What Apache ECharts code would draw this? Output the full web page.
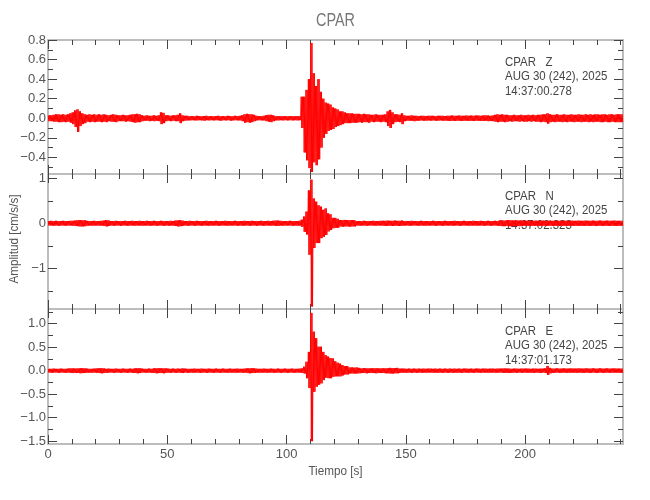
<!DOCTYPE html>
<html><head><meta charset="utf-8">
<script src="https://cdn.jsdelivr.net/npm/echarts@6/dist/echarts.min.js"></script>
<style>html,body{margin:0;padding:0;background:#fff}#c{width:650px;height:500px}</style>
</head><body><div id="c"></div>
<script>
// ---- text ----
const titleText = 'CPAR';
const xName = 'Tiempo [s]';
const yName = 'Amplitud [cm/s/s]';
const stations = ['CPAR   Z', 'CPAR   N', 'CPAR   E'];
const dateLine = 'AUG 30 (242), 2025';
const startTimes = ['14:37:00.278', '14:37:02.323', '14:37:01.173'];

// ---- axes (seconds / cm/s/s) ----
const xRange = [0, 241];
const xTicks = [0, 50, 100, 150, 200];
const xMinorTicks = [10,20,30,40,60,70,80,90,110,120,130,140,160,170,180,190,210,220,230,240];
const yRanges = [[-0.57, 0.8], [-1.905, 1.095], [-1.56, 1.313]];
const yTicks = [[-0.4,-0.2,0,0.2,0.4,0.6,0.8], [-1,0,1], [-1.5,-1,-0.5,0,0.5,1]];
const yMinorTicks = [[-0.5,-0.3,-0.1,0.1,0.3,0.5,0.7], [-1.5,-0.5,0.5], [-1.25,-0.75,-0.25,0.25,0.75,1.25]];
const yDecimals = [1, 0, 1];

// ---- per-second envelope of each trace (upper / lower), bins 0..240 s ----
const zUp = [
.03,.03,.035,.04,.04,.035,.04,.035,.04,.05,
.06,.08,.09,.07,.05,.04,.035,.04,.035,.04,
.035,.04,.035,.04,.035,.03,.035,.04,.035,.03,
.03,.035,.03,.03,.035,.04,.04,.045,.04,.03,
.025,.03,.025,.025,.03,.025,.03,.06,.055,.03,
.03,.025,.03,.03,.035,.05,.03,.025,.025,.02,
.022,.02,.025,.022,.02,.022,.025,.02,.022,.02,
.022,.025,.02,.022,.02,.025,.022,.02,.025,.022,
.025,.03,.04,.045,.04,.04,.035,.025,.022,.02,
.025,.03,.035,.035,.03,.022,.02,.022,.02,.022,
.02,.022,.02,.022,.02,.022,.22,.22,.29,.40,
.77,.46,.33,.40,.27,.20,.16,.15,.14,.11,
.10,.09,.07,.07,.06,.05,.05,.05,.045,.045,
.045,.04,.045,.04,.04,.035,.035,.04,.035,.035,
.035,.04,.07,.085,.06,.04,.04,.035,.05,.03,
.025,.025,.03,.025,.025,.022,.025,.025,.022,.025,
.025,.025,.022,.025,.025,.025,.022,.025,.025,.028,
.025,.025,.028,.025,.025,.028,.025,.028,.025,.028,
.028,.025,.028,.03,.028,.025,.028,.035,.04,.035,
.04,.035,.035,.03,.03,.035,.03,.03,.035,.03,
.03,.035,.03,.035,.03,.035,.035,.04,.04,.05,
.04,.035,.035,.04,.035,.035,.04,.035,.035,.04,
.035,.035,.04,.035,.035,.04,.035,.04,.035,.04,
.04,.035,.04,.04,.035,.04,.04,.035,.04,.04,
.04];
const zLo = [
-.03,-.03,-.035,-.035,-.04,-.04,-.035,-.04,-.035,-.045,
-.06,-.09,-.14,-.08,-.06,-.05,-.035,-.04,-.035,-.04,
-.035,-.035,-.04,-.035,-.04,-.03,-.035,-.035,-.04,-.03,
-.03,-.03,-.035,-.03,-.035,-.04,-.045,-.04,-.04,-.03,
-.025,-.025,-.03,-.025,-.03,-.025,-.03,-.06,-.05,-.03,
-.025,-.03,-.025,-.03,-.03,-.05,-.03,-.025,-.022,-.022,
-.02,-.022,-.022,-.02,-.022,-.025,-.02,-.022,-.02,-.022,
-.02,-.022,-.025,-.02,-.022,-.02,-.025,-.022,-.02,-.022,
-.022,-.03,-.045,-.04,-.045,-.04,-.03,-.022,-.02,-.022,
-.022,-.03,-.035,-.04,-.03,-.022,-.022,-.02,-.022,-.02,
-.022,-.02,-.022,-.02,-.022,-.02,-.10,-.35,-.43,-.51,
-.55,-.45,-.48,-.42,-.30,-.20,-.16,-.13,-.12,-.11,
-.09,-.08,-.07,-.06,-.05,-.05,-.05,-.045,-.045,-.045,
-.04,-.045,-.04,-.04,-.045,-.035,-.04,-.035,-.035,-.04,
-.035,-.04,-.08,-.10,-.06,-.04,-.035,-.04,-.06,-.03,
-.025,-.025,-.025,-.03,-.025,-.025,-.022,-.025,-.025,-.022,
-.025,-.022,-.025,-.025,-.022,-.025,-.025,-.025,-.028,-.025,
-.028,-.025,-.025,-.028,-.025,-.025,-.028,-.025,-.028,-.025,
-.025,-.028,-.028,-.025,-.03,-.028,-.03,-.035,-.04,-.035,
-.035,-.04,-.035,-.03,-.035,-.03,-.03,-.035,-.03,-.035,
-.035,-.03,-.035,-.03,-.035,-.035,-.04,-.035,-.04,-.055,
-.04,-.035,-.04,-.035,-.035,-.04,-.035,-.04,-.035,-.035,
-.04,-.035,-.035,-.04,-.035,-.035,-.04,-.035,-.04,-.035,
-.035,-.04,-.04,-.035,-.04,-.04,-.035,-.04,-.04,-.04,
-.04];
const nUp = [
.05,.055,.05,.055,.05,.05,.055,.05,.05,.055,
.055,.06,.07,.07,.065,.07,.055,.05,.05,.055,
.05,.05,.055,.06,.07,.065,.05,.05,.055,.05,
.05,.05,.055,.05,.05,.055,.05,.05,.055,.05,
.05,.055,.05,.05,.055,.05,.05,.055,.05,.05,
.05,.055,.05,.06,.065,.07,.06,.05,.05,.055,
.05,.05,.055,.05,.05,.05,.055,.05,.05,.05,
.055,.05,.05,.05,.055,.05,.05,.05,.055,.05,
.05,.05,.055,.05,.05,.055,.05,.05,.05,.055,
.05,.05,.055,.05,.055,.06,.06,.055,.05,.05,
.05,.055,.05,.05,.05,.055,.08,.15,.26,.73,
.97,.55,.48,.40,.37,.30,.33,.22,.20,.12,
.12,.10,.07,.07,.075,.07,.07,.07,.07,.05,
.05,.05,.055,.05,.05,.05,.055,.05,.05,.055,
.055,.055,.06,.055,.055,.06,.055,.055,.06,.05,
.05,.05,.055,.05,.05,.05,.055,.05,.05,.05,
.05,.055,.05,.05,.05,.05,.055,.05,.05,.05,
.055,.05,.05,.05,.055,.05,.05,.05,.055,.05,
.05,.055,.05,.05,.055,.05,.05,.055,.05,.065,
.065,.06,.065,.07,.065,.06,.065,.06,.065,.055,
.055,.06,.055,.055,.06,.055,.055,.06,.055,.055,
.06,.055,.055,.06,.055,.055,.06,.055,.055,.06,
.055,.055,.06,.055,.055,.06,.055,.055,.06,.055,
.055,.06,.055,.055,.06,.055,.055,.06,.055,.055,
.055];
const nLo = [
-.05,-.05,-.055,-.05,-.055,-.05,-.05,-.055,-.05,-.05,
-.055,-.06,-.065,-.07,-.07,-.065,-.055,-.05,-.055,-.05,
-.05,-.055,-.05,-.06,-.07,-.06,-.05,-.055,-.05,-.05,
-.055,-.05,-.05,-.055,-.05,-.05,-.055,-.05,-.05,-.055,
-.05,-.05,-.055,-.05,-.05,-.055,-.05,-.05,-.055,-.05,
-.055,-.05,-.055,-.06,-.07,-.065,-.055,-.05,-.055,-.05,
-.05,-.055,-.05,-.05,-.055,-.05,-.05,-.055,-.05,-.05,
-.05,-.055,-.05,-.05,-.05,-.055,-.05,-.05,-.05,-.055,
-.05,-.055,-.05,-.05,-.055,-.05,-.05,-.055,-.05,-.05,
-.055,-.05,-.05,-.055,-.05,-.06,-.06,-.05,-.055,-.05,
-.05,-.05,-.055,-.05,-.055,-.05,-.08,-.19,-.25,-.70,
-1.85,-.55,-.44,-.44,-.33,-.30,-.26,-.18,-.15,-.11,
-.10,-.10,-.07,-.075,-.07,-.07,-.075,-.07,-.07,-.05,
-.055,-.05,-.05,-.055,-.05,-.05,-.05,-.055,-.05,-.05,
-.055,-.06,-.055,-.055,-.06,-.055,-.055,-.06,-.055,-.05,
-.05,-.055,-.05,-.05,-.05,-.055,-.05,-.05,-.055,-.05,
-.05,-.05,-.055,-.05,-.05,-.055,-.05,-.05,-.05,-.055,
-.05,-.05,-.055,-.05,-.05,-.05,-.055,-.05,-.05,-.055,
-.05,-.05,-.055,-.05,-.05,-.055,-.05,-.05,-.055,-.06,
-.065,-.065,-.06,-.065,-.07,-.065,-.06,-.065,-.06,-.055,
-.055,-.055,-.06,-.055,-.055,-.06,-.055,-.055,-.06,-.055,
-.055,-.06,-.055,-.055,-.06,-.055,-.055,-.06,-.055,-.055,
-.06,-.055,-.055,-.06,-.055,-.055,-.06,-.055,-.055,-.06,
-.055,-.055,-.06,-.055,-.055,-.06,-.055,-.055,-.06,-.055,
-.055];
const eUp = [
.04,.04,.045,.04,.04,.045,.04,.04,.045,.05,
.05,.045,.05,.05,.055,.05,.045,.04,.04,.045,
.05,.05,.055,.05,.04,.045,.04,.04,.045,.04,
.04,.045,.04,.04,.045,.04,.05,.05,.055,.045,
.04,.04,.045,.04,.05,.05,.055,.05,.05,.05,
.045,.04,.045,.04,.045,.04,.05,.045,.04,.04,
.04,.045,.04,.04,.045,.04,.04,.045,.04,.04,
.045,.04,.04,.045,.04,.04,.045,.04,.04,.045,
.04,.04,.045,.05,.05,.055,.05,.045,.04,.04,
.045,.04,.04,.045,.04,.04,.045,.04,.04,.045,
.04,.04,.045,.04,.04,.045,.05,.085,.19,.40,
1.23,.83,.69,.51,.51,.40,.33,.30,.27,.26,
.20,.17,.15,.12,.10,.10,.07,.07,.065,.07,
.06,.05,.055,.05,.05,.05,.055,.05,.05,.05,
.05,.05,.055,.06,.055,.055,.06,.045,.045,.045,
.04,.045,.04,.045,.04,.045,.04,.045,.04,.045,
.045,.04,.045,.04,.045,.04,.045,.04,.045,.04,
.045,.04,.045,.04,.045,.045,.04,.045,.04,.045,
.045,.04,.045,.045,.04,.045,.045,.04,.045,.045,
.045,.05,.045,.045,.04,.045,.045,.04,.045,.045,
.045,.045,.04,.045,.045,.04,.045,.045,.05,.10,
.06,.045,.045,.05,.045,.045,.05,.045,.045,.05,
.045,.045,.05,.045,.045,.05,.045,.045,.05,.045,
.045,.05,.045,.045,.05,.045,.045,.05,.045,.045,
.045];
const eLo = [
-.04,-.045,-.04,-.04,-.045,-.04,-.04,-.045,-.04,-.045,
-.05,-.05,-.045,-.055,-.05,-.05,-.045,-.04,-.045,-.04,
-.045,-.05,-.055,-.05,-.045,-.04,-.04,-.045,-.04,-.04,
-.045,-.04,-.04,-.045,-.04,-.045,-.05,-.055,-.05,-.04,
-.04,-.045,-.04,-.045,-.05,-.055,-.05,-.05,-.055,-.045,
-.04,-.045,-.04,-.045,-.04,-.045,-.05,-.04,-.045,-.04,
-.045,-.04,-.04,-.045,-.04,-.04,-.045,-.04,-.04,-.045,
-.04,-.04,-.045,-.04,-.04,-.045,-.04,-.04,-.045,-.04,
-.04,-.045,-.04,-.05,-.055,-.05,-.05,-.04,-.045,-.04,
-.04,-.045,-.04,-.04,-.045,-.04,-.04,-.045,-.04,-.04,
-.045,-.04,-.04,-.045,-.04,-.04,-.05,-.06,-.16,-.37,
-1.50,-.45,-.34,-.30,-.27,-.20,-.15,-.16,-.16,-.13,
-.12,-.12,-.12,-.10,-.08,-.08,-.06,-.06,-.06,-.06,
-.055,-.05,-.05,-.055,-.05,-.05,-.05,-.055,-.05,-.05,
-.05,-.055,-.055,-.06,-.06,-.055,-.055,-.045,-.045,-.04,
-.045,-.04,-.045,-.04,-.045,-.04,-.045,-.04,-.045,-.04,
-.04,-.045,-.04,-.045,-.04,-.045,-.04,-.045,-.04,-.045,
-.04,-.045,-.04,-.045,-.04,-.04,-.045,-.04,-.045,-.04,
-.04,-.045,-.04,-.04,-.045,-.04,-.04,-.045,-.04,-.04,
-.045,-.045,-.05,-.045,-.045,-.04,-.045,-.04,-.045,-.04,
-.045,-.04,-.045,-.045,-.04,-.045,-.045,-.04,-.05,-.09,
-.055,-.045,-.045,-.04,-.045,-.045,-.04,-.045,-.045,-.04,
-.045,-.045,-.04,-.045,-.045,-.04,-.045,-.045,-.04,-.045,
-.045,-.04,-.045,-.045,-.04,-.045,-.045,-.04,-.045,-.045,
-.045];

const uppers = [zUp, nUp, eUp];
const lowers = [zLo, nLo, eLo];

// ---- build ----
const FONT = "'Liberation Sans', Arial, sans-serif";
const TXT = '#555';
const FRAME = '#bdbdbd';
const TICK = '#444';
const gridBoxes = [{top: 40, height: 134}, {top: 174, height: 135}, {top: 309, height: 135}];

// each 1-s bin swings between its read upper and lower envelope twice
function traceData(up, lo) {
  const d = [];
  for (let i = 0; i < up.length; i++) {
    d.push([i + 0.125, up[i]]);
    d.push([i + 0.375, lo[i]]);
    d.push([i + 0.625, up[i]]);
    d.push([i + 0.875, lo[i]]);
  }
  return d;
}
function fmt(v, dec) {
  const s = Number(v).toFixed(dec);
  return s.replace('-', '\u2212');
}

const grid = [], xAxis = [], yAxis = [], series = [], graphic = [];
for (let p = 0; p < 3; p++) {
  grid.push({left: 48, right: 27, top: gridBoxes[p].top, height: gridBoxes[p].height, containLabel: false});
  const isLast = p === 2;
  const baseX = {type: 'value', gridIndex: p, min: xRange[0], max: xRange[1], splitLine: {show: false}, axisPointer: {show: false}};
  xAxis.push(Object.assign({}, baseX, {
    position: 'bottom',
    axisLine: {show: true, onZero: false, lineStyle: {color: FRAME, width: 2}},
    axisTick: {show: true, inside: true, length: 9, customValues: xTicks, lineStyle: {color: TICK, width: 1}},
    axisLabel: {show: isLast, customValues: xTicks, margin: 4, color: TXT, fontSize: 13, fontFamily: FONT}
  }));
  xAxis.push(Object.assign({}, baseX, {
    position: 'bottom',
    axisLine: {show: false, onZero: false},
    axisTick: {show: true, inside: true, length: 5, customValues: xMinorTicks, lineStyle: {color: TICK, width: 1}},
    axisLabel: {show: false}
  }));
  xAxis.push(Object.assign({}, baseX, {
    position: 'top',
    axisLine: {show: true, onZero: false, lineStyle: {color: FRAME, width: 2}},
    axisTick: {show: true, inside: true, length: 9, customValues: xTicks, lineStyle: {color: TICK, width: 1}},
    axisLabel: {show: false}
  }));
  xAxis.push(Object.assign({}, baseX, {
    position: 'top',
    axisLine: {show: false, onZero: false},
    axisTick: {show: true, inside: true, length: 5, customValues: xMinorTicks, lineStyle: {color: TICK, width: 1}},
    axisLabel: {show: false}
  }));

  const baseY = {type: 'value', gridIndex: p, min: yRanges[p][0], max: yRanges[p][1], splitLine: {show: false}, axisPointer: {show: false}};
  const dec = yDecimals[p];
  yAxis.push(Object.assign({}, baseY, {
    position: 'left',
    axisLine: {show: true, onZero: false, lineStyle: {color: FRAME, width: 2}},
    axisTick: {show: true, inside: true, length: 9, customValues: yTicks[p], lineStyle: {color: TICK, width: 1}},
    axisLabel: {show: true, customValues: yTicks[p], margin: 2, color: TXT, fontSize: 13, fontFamily: FONT,
      formatter: v => fmt(v, dec)}
  }));
  yAxis.push(Object.assign({}, baseY, {
    position: 'left',
    axisLine: {show: false, onZero: false},
    axisTick: {show: true, inside: true, length: 5, customValues: yMinorTicks[p], lineStyle: {color: TICK, width: 1}},
    axisLabel: {show: false}
  }));
  yAxis.push(Object.assign({}, baseY, {
    position: 'right',
    axisLine: {show: true, onZero: false, lineStyle: {color: FRAME, width: 2}},
    axisTick: {show: true, inside: true, length: 9, customValues: yTicks[p], lineStyle: {color: TICK, width: 1}},
    axisLabel: {show: false}
  }));
  yAxis.push(Object.assign({}, baseY, {
    position: 'right',
    axisLine: {show: false, onZero: false},
    axisTick: {show: true, inside: true, length: 5, customValues: yMinorTicks[p], lineStyle: {color: TICK, width: 1}},
    axisLabel: {show: false}
  }));

  series.push({
    type: 'line', xAxisIndex: 4 * p, yAxisIndex: 4 * p, data: traceData(uppers[p], lowers[p]),
    showSymbol: false, symbol: 'none', clip: true, z: 3,
    lineStyle: {color: '#ff0000', width: 1}, animation: false, silent: true
  });

  const ty = gridBoxes[p].top + 22;
  [stations[p], dateLine, startTimes[p]].forEach((t, k) => {
    graphic.push({type: 'text', x: 505, y: ty + k * 14.5, z: 1, scaleX: 0.88,
      style: {text: t, fill: '#444', fontSize: 13, fontFamily: FONT, align: 'left', verticalAlign: 'middle'}});
  });
}
graphic.push({type: 'text', x: 335.5, y: 21.5, scaleX: 0.8, style: {text: titleText, fill: '#777', fontSize: 18, fontFamily: FONT, align: 'center', verticalAlign: 'middle'}});
graphic.push({type: 'text', x: 335.5, y: 471, scaleX: 0.9, style: {text: xName, fill: TXT, fontSize: 13, fontFamily: FONT, align: 'center', verticalAlign: 'middle'}});
graphic.push({type: 'text', x: 14, y: 239, rotation: Math.PI / 2, scaleX: 0.9, style: {text: yName, fill: TXT, fontSize: 13, fontFamily: FONT, align: 'center', verticalAlign: 'middle'}});

const chart = echarts.init(document.getElementById('c'), null, {renderer: 'canvas'});
chart.setOption({
  animation: false,
  backgroundColor: '#ffffff',
  grid, xAxis, yAxis, series, graphic
});
</script></body></html>
